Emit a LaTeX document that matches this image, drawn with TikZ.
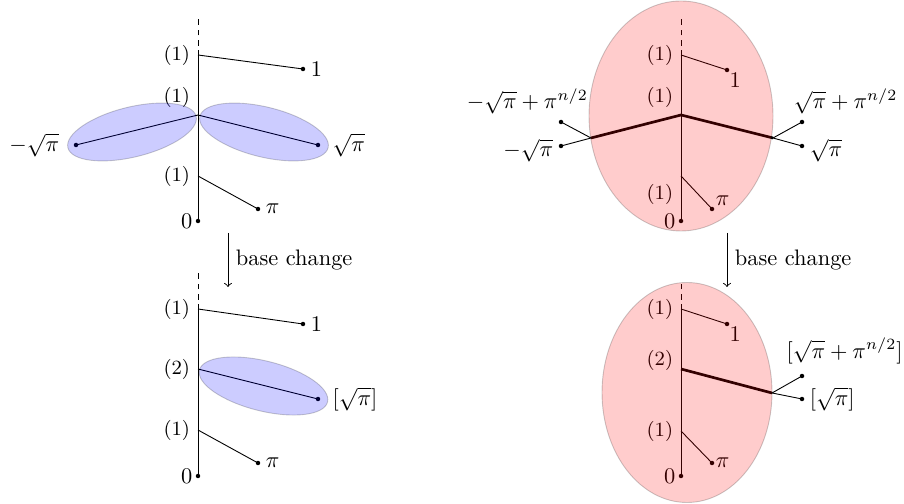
\documentclass[tikz,border=0pt]{standalone}
\usetikzlibrary{positioning}
\tikzset{
  mult/.style={font=\small},
  stem/.style={dash pattern=on 2.5pt off 2.2pt},
  heavy/.style={line width=1.2pt},
  blueblob/.style={fill=blue,opacity=0.2},
  redblob/.style={fill=red,opacity=0.2}
}

\begin{document}
\begin{tikzpicture}[x=0.4464pt,y=0.4464pt,>=to]

    % Rahmen
    \useasboundingbox (0,0) rectangle (904,504);

    % Punktgroesse
    \def\r{1pt}

    % ---------- links oben ----------
    \begin{scope}[shift={(198,283)}]
        \coordinate (tl0)   at (0,0);
        \coordinate (tla)   at (0,166);
        \coordinate (tlb)   at (0,106);
        \coordinate (tlc)   at (0,45);
        \coordinate (tltop) at (0,171);
        \coordinate (tldsh) at (0,175);
        \coordinate (tlend) at (0,206);
        \coordinate (tlone) at (105,152);
        \coordinate (tlmsq) at (-122,76);
        \coordinate (tlsq)  at (120,76);
        \coordinate (tlpi)  at (60,12);

        \draw[stem] (tldsh) -- (tlend);
        \draw (tl0) -- (tltop);
        \draw (tla) -- (tlone);
        \draw (tlb) -- (tlmsq);
        \draw (tlb) -- (tlsq);
        \draw (tlc) -- (tlpi);
        \foreach \p in {tl0,tlone,tlmsq,tlsq,tlpi} {
            \fill (\p) circle (\r);
        }

        \node[mult,left]       (tlma) at (tla) {$(1)$};
        \node[mult,above left] (tlmb) at (tlb) {$(1)$};
        \node[mult,left]       (tlmc) at (tlc) {$(1)$};
        \node[left=-1pt]  (tll0)   at (tl0)   {$0$};
        \node[right]      (tllone) at (tlone) {$1$};
        \node[left=4pt]   (tllmsq) at (tlmsq) {$-\sqrt{\pi}$};
        \node[right=3pt]  (tllsq)  at (tlsq)  {$\sqrt{\pi}$};
        \node[right]      (tllpi)  at (tlpi)  {$\pi$};

        % Ellipsen
        \draw[blueblob,rotate around={13.8:(-66,89)}]
            (-66,89) ellipse [x radius=66,y radius=25];
        \draw[blueblob,rotate around={-13.8:(66,89)}]
            (66,89) ellipse [x radius=66,y radius=25];
    \end{scope}

    % ---------- links unten ----------
    \begin{scope}[shift={(198,28)}]
        \coordinate (bl0)   at (0,0);
        \coordinate (bla)   at (0,167);
        \coordinate (blb)   at (0,107);
        \coordinate (blc)   at (0,46);
        \coordinate (bltop) at (0,172);
        \coordinate (bldsh) at (0,176);
        \coordinate (blend) at (0,206);
        \coordinate (blone) at (105,152);
        \coordinate (blsq)  at (120,77);
        \coordinate (blpi)  at (60,13);

        \draw[stem] (bldsh) -- (blend);
        \draw (bl0) -- (bltop);
        \draw (bla) -- (blone);
        \draw (blb) -- (blsq);
        \draw (blc) -- (blpi);
        \foreach \p in {bl0,blone,blsq,blpi} {
            \fill (\p) circle (\r);
        }

        \node[mult,left] (blma) at (bla) {$(1)$};
        \node[mult,left] (blmb) at (blb) {$(2)$};
        \node[mult,left] (blmc) at (blc) {$(1)$};
        \node[left=-1pt] (bll0)   at (bl0)   {$0$};
        \node[right]     (bllone) at (blone) {$1$};
        \node[right=3pt] (bllsq)  at (blsq)  {$[\sqrt{\pi}]$};
        \node[right]     (bllpi)  at (blpi)  {$\pi$};

        \draw[blueblob,rotate around={-14:(65.5,90)}]
            (65.5,90) ellipse [x radius=66,y radius=25];
    \end{scope}

    % ---------- rechts oben ----------
    \begin{scope}[shift={(681,283)}]
        \coordinate (tr0)   at (0,0);
        \coordinate (tra)   at (0,166);
        \coordinate (trb)   at (0,106);
        \coordinate (trc)   at (0,45);
        \coordinate (trtop) at (0,171);
        \coordinate (trdsh) at (0,175);
        \coordinate (trend) at (0,206);
        \coordinate (trone) at (46,151);
        \coordinate (trl)   at (-90,83);
        \coordinate (trr)   at (92,83);
        \coordinate (trlup) at (-120,99);
        \coordinate (trldn) at (-120,75);
        \coordinate (trrup) at (121,99);
        \coordinate (trrdn) at (121,75);
        \coordinate (trpi)  at (31,12);

        \draw[stem] (trdsh) -- (trend);
        \draw (tr0) -- (trtop);
        \draw (tra) -- (trone);
        \draw[heavy] (trl) -- (trb) -- (trr);
        \draw (trl) -- (trlup);
        \draw (trl) -- (trldn);
        \draw (trr) -- (trrup);
        \draw (trr) -- (trrdn);
        \draw (trc) -- (trpi);
        \foreach \p in {tr0,trone,trlup,trldn,trrup,trrdn,trpi} {
            \fill (\p) circle (\r);
        }

        \node[mult,left]       (trma) at (tra) {$(1)$};
        \node[mult,above left] (trmb) at (trb) {$(1)$};
        \node[mult,below left] (trmc) at (trc) {$(1)$};
        \node[left=-1pt]                  (trl0)   at (tr0)   {$0$};
        \node[below right,inner sep=1pt]  (trlone) at (trone) {$1$};
        \node[above,xshift=-15pt]         (trllup) at (trlup) {$-\sqrt{\pi}+\pi^{n/2}$};
        \node[left,yshift=-2pt]           (trlldn) at (trldn) {$-\sqrt{\pi}$};
        \node[above,xshift=19.5pt]        (trlrup) at (trrup) {$\sqrt{\pi}+\pi^{n/2}$};
        \node[right,yshift=-2pt]          (trlrdn) at (trrdn) {$\sqrt{\pi}$};
        \node[above right,inner sep=1.5pt] (trlpi) at (trpi)  {$\pi$};

        \draw[redblob] (0,105) ellipse [x radius=92,y radius=115];
    \end{scope}

    % ---------- rechts unten ----------
    \begin{scope}[shift={(681,28)}]
        \coordinate (br0)   at (0,0);
        \coordinate (bra)   at (0,167);
        \coordinate (brb)   at (0,107);
        \coordinate (brc)   at (0,45);
        \coordinate (brtop) at (0,172);
        \coordinate (brdsh) at (0,176);
        \coordinate (brend) at (0,192);
        \coordinate (brone) at (46,152);
        \coordinate (brr)   at (91,83);
        \coordinate (brrup) at (121,100);
        \coordinate (brrdn) at (121,77);
        \coordinate (brpi)  at (31,13);

        \draw[stem] (brdsh) -- (brend);
        \draw (br0) -- (brtop);
        \draw (bra) -- (brone);
        \draw[heavy] (brb) -- (brr);
        \draw (brr) -- (brrup);
        \draw (brr) -- (brrdn);
        \draw (brc) -- (brpi);
        \foreach \p in {br0,brone,brrup,brrdn,brpi} {
            \fill (\p) circle (\r);
        }

        \node[mult,left]            (brma) at (bra) {$(1)$};
        \node[mult,left,yshift=4pt] (brmb) at (brb) {$(2)$};
        \node[mult,left]            (brmc) at (brc) {$(1)$};
        \node[left=-1pt]                 (brl0)   at (br0)   {$0$};
        \node[below right,inner sep=1pt] (brlone) at (brone) {$1$};
        \node[above=2pt,xshift=19pt]     (brlrup) at (brrup) {$[\sqrt{\pi}+\pi^{n/2}]$};
        \node[right]                     (brlrdn) at (brrdn) {$[\sqrt{\pi}]$};
        \node[right,inner sep=1.5pt]     (brlpi)  at (brpi)  {$\pi$};

        \draw[redblob] (6,83.5) ellipse [x radius=85,y radius=110];
    \end{scope}

    % Pfeile
    \coordinate (lfrom) at (228,271);
    \coordinate (lto)   at (228,217);
    \coordinate (rfrom) at (727,271);
    \coordinate (rto)   at (727,217);
    \draw[->] (lfrom) -- node[right] (lbase) {base change} (lto);
    \draw[->] (rfrom) -- node[right] (rbase) {base change} (rto);

\end{tikzpicture}
\end{document}
